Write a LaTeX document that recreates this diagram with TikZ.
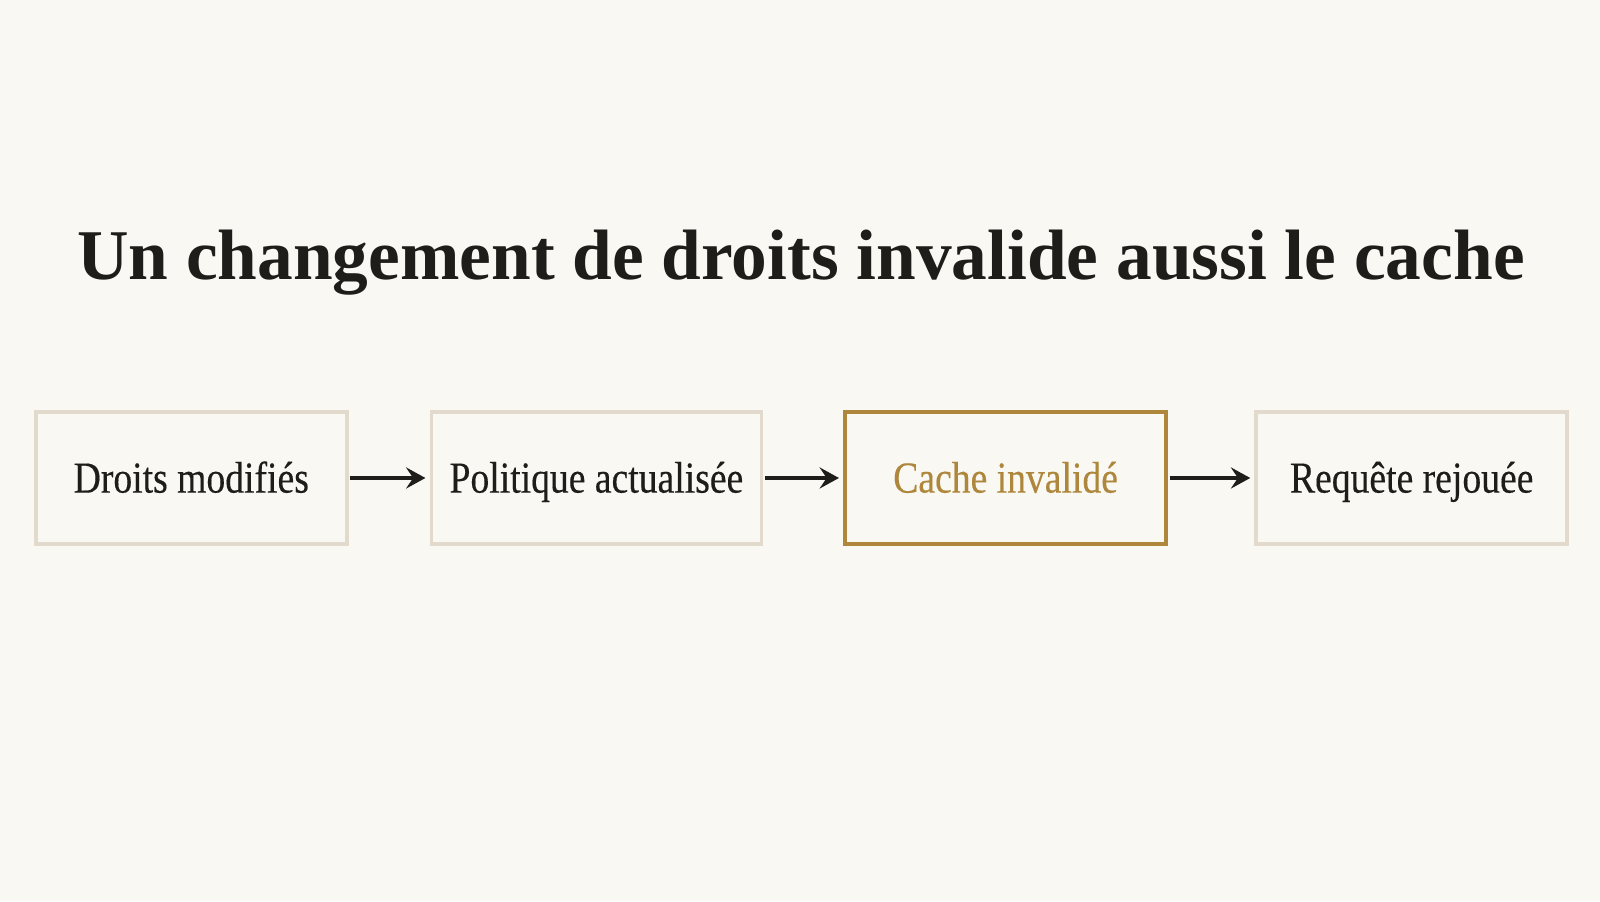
\documentclass[tikz,border=0pt]{standalone}
\usepackage{fontspec}
\setmainfont{Liberation Serif}
\newfontfamily\boxfont[FakeStretch=0.85,FakeBold=0.3]{Liberation Serif}
\usetikzlibrary{arrows.meta}
\definecolor{paper}{HTML}{FAF8F3}
\definecolor{ink}{HTML}{1F1D1A}
\definecolor{frame}{HTML}{E2DBCD}
\definecolor{gold}{HTML}{AE873C}

\begin{document}
\begin{tikzpicture}
  [every node/.style={rectangle,draw=frame,line width=1pt,text=ink,font=\boxfont\fontsize{12.6}{15}\selectfont,
     minimum height=1.32cm,inner sep=0pt,text height=8.3pt,text depth=0pt},
   hot/.style={draw=gold,text=gold,line width=1.1pt},
   >={Stealth[length=5.5pt,width=6pt,inset=2pt]}]
  \fill[paper] (0,0) rectangle (16,9.01);
  \useasboundingbox (0,0) rectangle (16,9.01);

  \node[draw=none,anchor=base,text height=,text depth=,font=\bfseries\fontsize{20.3}{24}\selectfont] (title) at (8.01,6.21)
    {Un changement de droits invalide aussi le cache};

  \node[minimum width=3.11cm] (droits)    at (1.913,4.23) {Droits modifiés};
  \node[minimum width=3.30cm] (politique) at (5.964,4.23) {Politique actualisée};
  \node[hot,minimum width=3.21cm] (cache) at (10.056,4.23) {Cache invalidé};
  \node[minimum width=3.11cm] (requete)   at (14.117,4.23) {Requête rejouée};

  \foreach \from/\to in {droits/politique,politique/cache,cache/requete}
    \draw[->,ink,line width=1.1pt] ([xshift=0.5pt]\from.east) -- ([xshift=-1.2pt]\to.west);
\end{tikzpicture}
\end{document}
